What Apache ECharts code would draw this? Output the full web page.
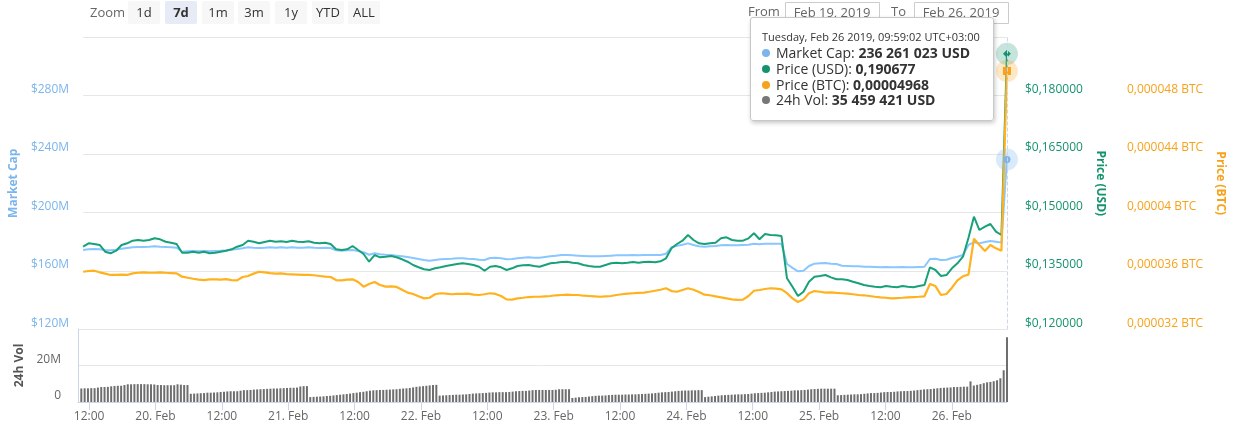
<!DOCTYPE html>
<html>
<head>
<meta charset="utf-8">
<script src="https://cdn.jsdelivr.net/npm/echarts@6/dist/echarts.min.js"></script>
<style>
html,body{margin:0;padding:0;background:#fff;}
#c{width:1234px;height:432px;position:relative;}
</style>
</head>
<body>
<div id="c"></div>
<script>
// ---- time grid (wall-clock UTC+03:00, stored as UTC) ----
const START = Date.UTC(2019, 1, 19, 9, 59, 2);
const HOUR = 3600000;
const VOL_STEP = 36 * 60000;

// ---- x tick positions and labels ----
const tickTimes = [
  '2019-02-19T12:00', '2019-02-20T00:00', '2019-02-20T12:00', '2019-02-21T00:00',
  '2019-02-21T12:00', '2019-02-22T00:00', '2019-02-22T12:00', '2019-02-23T00:00',
  '2019-02-23T12:00', '2019-02-24T00:00', '2019-02-24T12:00', '2019-02-25T00:00',
  '2019-02-25T12:00', '2019-02-26T00:00'
];
const tickLabels = ['12:00', '20. Feb', '12:00', '21. Feb', '12:00', '22. Feb', '12:00', '23. Feb',
  '12:00', '24. Feb', '12:00', '25. Feb', '12:00', '26. Feb'];

// ---- Market Cap (million USD), hourly ----
const marketCap = [
  174.4,174.8,175.0,174.8,174.4,174.2,174.6,175.2,175.7,176.2,
  176.4,176.4,176.6,176.9,176.6,176.4,176.2,175.9,173.2,173.5,
  173.7,173.5,173.7,173.5,173.7,173.9,174.2,174.6,175.0,175.5,
  176.2,175.9,175.7,175.9,176.2,175.9,176.2,175.9,176.2,175.9,
  175.9,176.2,175.9,175.7,175.9,175.7,174.2,173.9,174.2,174.4,
  173.7,172.8,171.1,172.1,171.4,171.1,170.9,170.5,170.1,169.6,
  168.9,168.2,167.5,167.0,167.5,168.0,168.2,168.4,168.7,168.7,
  168.4,168.2,167.7,167.5,168.9,169.1,168.7,168.0,168.2,168.7,
  169.1,169.4,169.1,169.1,169.6,170.1,170.5,170.9,170.9,170.7,
  170.5,170.3,170.1,170.1,170.1,170.3,170.5,170.7,170.7,170.7,
  170.9,170.7,170.9,170.9,170.9,170.9,171.8,176.2,177.3,178.0,
  178.9,177.8,176.9,176.6,176.9,177.1,177.6,177.8,177.6,177.6,
  177.8,178.0,178.7,178.3,178.7,178.7,178.7,178.7,164.8,162.1,
  159.8,160.2,163.4,165.0,165.3,165.5,165.0,164.8,163.6,163.4,
  163.2,163.2,162.9,162.9,162.7,162.5,162.7,162.5,162.5,162.7,
  162.5,162.5,162.7,162.9,168.2,168.4,167.5,167.7,168.9,169.8,
  170.9,177.8,179.6,178.9,179.8,180.5,180.0,179.4,236.261023
];

// ---- Price (USD), hourly ----
const priceUsd = [
  0.14123,0.14210,0.14192,0.14167,0.13995,0.13954,0.14021,0.14167,0.14210,0.14277,
  0.14295,0.14277,0.14295,0.14338,0.14313,0.14251,0.14226,0.14192,0.13969,0.13969,
  0.13995,0.13969,0.13995,0.13954,0.13969,0.13995,0.14021,0.14056,0.14123,0.14167,
  0.14277,0.14251,0.14210,0.14244,0.14277,0.14251,0.14262,0.14244,0.14277,0.14251,
  0.14244,0.14262,0.14226,0.14210,0.14226,0.14192,0.14056,0.14038,0.14056,0.14141,
  0.14038,0.13936,0.13738,0.13910,0.13851,0.13867,0.13885,0.13851,0.13800,0.13738,
  0.13654,0.13595,0.13544,0.13526,0.13569,0.13595,0.13628,0.13654,0.13679,0.13697,
  0.13679,0.13654,0.13610,0.13508,0.13610,0.13628,0.13595,0.13526,0.13569,0.13628,
  0.13646,0.13654,0.13628,0.13610,0.13654,0.13697,0.13713,0.13731,0.13738,0.13713,
  0.13697,0.13654,0.13628,0.13610,0.13610,0.13654,0.13697,0.13713,0.13697,0.13713,
  0.13731,0.13713,0.13731,0.13738,0.13723,0.13749,0.13826,0.14082,0.14192,0.14277,
  0.14423,0.14295,0.14210,0.14192,0.14210,0.14226,0.14338,0.14364,0.14295,0.14277,
  0.14277,0.14338,0.14467,0.14313,0.14449,0.14423,0.14415,0.14397,0.13313,0.13097,
  0.12859,0.12969,0.13226,0.13354,0.13372,0.13397,0.13338,0.13287,0.13287,0.13269,
  0.13226,0.13185,0.13141,0.13115,0.13097,0.13082,0.13115,0.13097,0.13082,0.13115,
  0.13097,0.13082,0.13115,0.13141,0.13595,0.13526,0.13372,0.13397,0.13569,0.13697,
  0.13867,0.14346,0.14892,0.14551,0.14636,0.14705,0.14508,0.14423,0.190677
];

// ---- Price (BTC), hourly ----
const priceBtc = [
  0.00003595,0.00003600,0.00003602,0.00003591,0.00003582,0.00003573,0.00003573,0.00003575,0.00003573,0.00003584,
  0.00003588,0.00003591,0.00003588,0.00003588,0.00003591,0.00003588,0.00003586,0.00003584,0.00003561,0.00003554,
  0.00003547,0.00003541,0.00003538,0.00003543,0.00003543,0.00003541,0.00003545,0.00003538,0.00003536,0.00003559,
  0.00003566,0.00003582,0.00003595,0.00003591,0.00003586,0.00003582,0.00003584,0.00003579,0.00003577,0.00003575,
  0.00003573,0.00003573,0.00003571,0.00003566,0.00003561,0.00003559,0.00003538,0.00003536,0.00003541,0.00003543,
  0.00003525,0.00003493,0.00003511,0.00003525,0.00003504,0.00003493,0.00003495,0.00003491,0.00003472,0.00003452,
  0.00003443,0.00003427,0.00003413,0.00003417,0.00003441,0.00003448,0.00003445,0.00003441,0.00003443,0.00003443,
  0.00003445,0.00003438,0.00003436,0.00003441,0.00003448,0.00003443,0.00003429,0.00003406,0.00003404,0.00003413,
  0.00003417,0.00003422,0.00003424,0.00003424,0.00003427,0.00003429,0.00003434,0.00003436,0.00003438,0.00003436,
  0.00003436,0.00003431,0.00003429,0.00003427,0.00003424,0.00003427,0.00003429,0.00003436,0.00003441,0.00003445,
  0.00003448,0.00003450,0.00003452,0.00003458,0.00003465,0.00003472,0.00003482,0.00003463,0.00003458,0.00003470,
  0.00003482,0.00003472,0.00003456,0.00003438,0.00003434,0.00003427,0.00003420,0.00003413,0.00003406,0.00003402,
  0.00003404,0.00003429,0.00003465,0.00003470,0.00003477,0.00003482,0.00003479,0.00003475,0.00003448,0.00003413,
  0.00003388,0.00003406,0.00003448,0.00003463,0.00003458,0.00003452,0.00003454,0.00003450,0.00003448,0.00003445,
  0.00003441,0.00003436,0.00003434,0.00003429,0.00003424,0.00003420,0.00003417,0.00003413,0.00003415,0.00003417,
  0.00003420,0.00003422,0.00003424,0.00003427,0.00003511,0.00003497,0.00003436,0.00003443,0.00003486,0.00003536,
  0.00003564,0.00003575,0.00003821,0.00003778,0.00003737,0.00003778,0.00003755,0.00003739,0.00004968
];

// ---- 24h Volume (million USD), every 36 minutes ----
const volumeM = [
  7.4,7.5,7.5,7.6,7.6,7.9,8.2,8.2,8.3,8.6,8.8,8.9,8.9,9.3,9.7,9.7,9.8,9.8,9.8,9.8,9.7,9.7,9.6,9.3,9.3,9.2,9.2,9.2,9.2,9.7,9.5,9.3,9.3,
  4.5,4.6,4.7,4.8,4.9,5.1,5.1,5.2,5.3,5.5,5.6,5.8,5.9,5.9,5.9,6.2,6.5,6.5,6.6,6.8,6.9,7.0,7.1,7.2,7.3,7.4,7.4,7.5,7.6,7.7,7.8,7.8,7.9,8.5,8.7,8.7,
  2.7,2.8,2.9,3.0,3.1,3.3,3.4,3.6,3.8,4.0,4.2,4.4,4.6,4.9,5.1,5.4,5.6,5.9,6.2,6.4,6.5,6.6,6.6,6.7,6.8,6.9,7.0,7.2,7.4,7.5,7.7,8.0,8.3,8.5,8.7,8.9,9.1,9.3,9.4,
  3.5,3.6,3.7,3.8,3.9,4.0,4.0,4.1,4.2,4.4,4.6,4.7,4.8,4.9,5.0,5.2,5.3,5.3,5.4,5.4,5.4,5.5,5.7,5.9,6.0,6.1,6.1,6.3,6.5,6.6,6.6,6.6,6.6,6.6,6.6,6.7,7.0,7.0,7.0,7.0,
  2.2,2.4,2.6,2.7,2.8,3.0,3.2,3.4,3.5,3.5,3.6,3.8,3.9,4.0,4.0,4.0,4.1,4.1,4.2,4.2,4.3,4.4,4.5,4.6,4.7,4.9,5.1,5.3,5.4,5.5,5.7,5.9,6.1,6.2,6.3,6.3,6.4,6.4,6.5,6.5,
  2.7,2.9,3.1,3.3,3.5,3.7,3.8,3.9,4.0,4.1,4.2,4.2,4.3,4.4,4.6,4.8,4.9,5.0,5.1,5.3,5.5,5.7,5.8,5.9,6.0,6.1,6.2,6.4,6.4,6.5,6.6,6.8,7.0,7.1,7.2,7.3,7.3,7.3,7.3,7.3,
  3.7,3.8,3.9,4.0,4.1,4.2,4.2,4.3,4.5,4.7,4.9,4.9,5.0,5.2,5.4,5.5,5.5,5.6,5.8,5.9,6.0,6.0,6.1,6.3,6.5,6.7,6.9,7.0,7.1,7.3,7.5,7.7,7.8,7.9,8.0,8.2,8.2,8.3,8.4,8.4,
  11.3,9.0,9.4,9.8,10.3,10.8,11.0,11.4,11.9,13.0,17.4,35.459421
];

// ---- range selector texts ----
const zoomButtons = ['1d', '7d', '1m', '3m', '1y', 'YTD', 'ALL'];
const selectedButton = '7d';
const fromDate = 'Feb 19, 2019';
const toDate = 'Feb 26, 2019';

// ---- colours ----
const C_MC = '#7cb5ec';
const C_USD = '#16936e';
const C_BTC = '#f7a21b';
const C_VOL = '#6e6e6e';
const FONT = '"Open Sans", "DejaVu Sans", sans-serif';

// ---- build series data ----
const tickValues = tickTimes.map(s => Date.parse(s + ':00Z'));
const lineTime = i => START + i * HOUR;
const mcData = marketCap.map((v, i) => [lineTime(i), v]);
const usdData = priceUsd.map((v, i) => [lineTime(i), v]);
const btcData = priceBtc.map((v, i) => [lineTime(i), v]);
const volData = volumeM.map((v, k) => [START + (k + 1) * VOL_STEP, v * 1e6]);
const END = lineTime(marketCap.length - 1);

function lastMarks(data, shape, size, color, halo) {
  const p = data[data.length - 1];
  return {
    silent: true,
    animation: false,
    label: { show: false },
    data: [
      { coord: p, symbol: 'circle', symbolSize: 22, itemStyle: { color: halo } },
      { coord: p, symbol: shape, symbolSize: size, itemStyle: { color: color } }
    ]
  };
}

const spaced = v => Math.round(v).toString().replace(/\B(?=(\d{3})+(?!\d))/g, ' ');
const pad2 = v => (v < 10 ? '0' : '') + v;
const DAYS = ['Sunday', 'Monday', 'Tuesday', 'Wednesday', 'Thursday', 'Friday', 'Saturday'];
const MONTHS = ['Jan', 'Feb', 'Mar', 'Apr', 'May', 'Jun', 'Jul', 'Aug', 'Sep', 'Oct', 'Nov', 'Dec'];

function tooltipHtml() {
  const i = marketCap.length - 1;
  const d = new Date(lineTime(i));
  const head = DAYS[d.getUTCDay()] + ', ' + MONTHS[d.getUTCMonth()] + ' ' + d.getUTCDate() + ' ' +
    d.getUTCFullYear() + ', ' + pad2(d.getUTCHours()) + ':' + pad2(d.getUTCMinutes()) + ':' +
    pad2(d.getUTCSeconds()) + ' UTC+03:00';
  const dot = c => '<span style="display:inline-block;width:8px;height:8px;border-radius:4px;background:' + c +
    ';margin-right:6px;vertical-align:1px"></span>';
  const row = (c, name, val) => '<div style="line-height:15.8px;white-space:nowrap">' + dot(c) + name + ': <b>' + val + '</b></div>';
  return '<div style="font-size:11px;line-height:16px;color:#333;white-space:nowrap">' + head + '</div>' +
    row(C_MC, 'Market Cap', spaced(marketCap[i] * 1e6) + ' USD') +
    row(C_USD, 'Price (USD)', priceUsd[i].toFixed(6).replace('.', ',')) +
    row(C_BTC, 'Price (BTC)', priceBtc[i].toFixed(8).replace('.', ',')) +
    row('#777', '24h Vol', spaced(volumeM[volumeM.length - 1] * 1e6) + ' USD');
}

// ---- range selector graphics ----
const graphics = [];
graphics.push({ type: 'text', x: 90, y: 13, style: { text: 'Zoom', font: '13px ' + FONT, fill: '#666',
  verticalAlign: 'middle', textVerticalAlign: 'middle' } });
const btnX = [128, 165, 202, 238, 275, 312, 348];
zoomButtons.forEach((b, j) => {
  const sel = b === selectedButton;
  graphics.push({ type: 'rect', shape: { x: btnX[j], y: 1, width: 32, height: 23, r: 2 },
    style: { fill: sel ? '#e6ebf5' : '#f7f7f7' } });
  graphics.push({ type: 'text', x: btnX[j] + 16, y: 13,
    style: { text: b, font: (sel ? 'bold ' : '') + '13px ' + FONT, fill: '#333', align: 'center', verticalAlign: 'middle',
      textAlign: 'center', textVerticalAlign: 'middle' } });
});
graphics.push({ type: 'text', x: 748, y: 12, style: { text: 'From', font: '13px ' + FONT, fill: '#666',
  verticalAlign: 'middle', textVerticalAlign: 'middle' } });
graphics.push({ type: 'rect', shape: { x: 785.5, y: 2.5, width: 94, height: 21 }, style: { fill: '#fff', stroke: '#ccc', lineWidth: 1 } });
graphics.push({ type: 'text', x: 832, y: 13, style: { text: fromDate, font: '13px ' + FONT, fill: '#666',
  align: 'center', verticalAlign: 'middle', textAlign: 'center', textVerticalAlign: 'middle' } });
graphics.push({ type: 'text', x: 891, y: 12, style: { text: 'To', font: '13px ' + FONT, fill: '#666',
  verticalAlign: 'middle', textVerticalAlign: 'middle' } });
graphics.push({ type: 'rect', shape: { x: 914.5, y: 2.5, width: 94, height: 21 }, style: { fill: '#fff', stroke: '#ccc', lineWidth: 1 } });
graphics.push({ type: 'text', x: 961, y: 13, style: { text: toDate, font: '13px ' + FONT, fill: '#666',
  align: 'center', verticalAlign: 'middle', textAlign: 'center', textVerticalAlign: 'middle' } });

const chart = echarts.init(document.getElementById('c'), null, { renderer: 'canvas', width: 1234, height: 432 });

const option = {
  animation: false,
  backgroundColor: '#fff',
  textStyle: { fontFamily: FONT },
  graphic: graphics,
  grid: [
    { left: 78, top: 37, width: 929, height: 292.5 },
    { left: 78, top: 329, width: 929, height: 73 }
  ],
  tooltip: {
    show: true,
    trigger: 'axis',
    alwaysShowContent: true,
    transitionDuration: 0,
    showDelay: 0,
    enterable: false,
    position: [750, 17],
    backgroundColor: 'rgba(255,255,255,0.97)',
    borderColor: '#c8c8c8',
    borderWidth: 1,
    padding: [11, 13, 12, 11],
    textStyle: { color: '#333', fontSize: 14, fontFamily: FONT },
    extraCssText: 'box-shadow:1px 2px 4px rgba(0,0,0,0.22);border-radius:3px;',
    axisPointer: { type: 'line', snap: true, lineStyle: { color: '#ccd6eb', width: 1 }, label: { show: false } },
    formatter: tooltipHtml
  },
  xAxis: [
    { type: 'value', gridIndex: 0, min: START, max: END, show: true,
      axisLine: { show: false }, axisTick: { show: false }, axisLabel: { show: false }, splitLine: { show: false } },
    { type: 'value', gridIndex: 1, min: START, max: END,
      axisLine: { show: true, lineStyle: { color: '#ccd6eb' } },
      axisTick: { show: true, customValues: tickValues, length: 8, lineStyle: { color: '#ccd6eb' } },
      splitLine: { show: false },
      axisPointer: { show: false },
      axisLabel: { customValues: tickValues, margin: 9, color: '#666', fontSize: 12, fontFamily: FONT,
        formatter: v => {
          let best = 0;
          tickValues.forEach((t, j) => { if (Math.abs(t - v) < Math.abs(tickValues[best] - v)) best = j; });
          return tickLabels[best];
        } } }
  ],
  yAxis: [
    { type: 'value', gridIndex: 0, position: 'left', min: 120, max: 320, interval: 40,
      axisLine: { show: false }, axisTick: { show: false },
      splitLine: { lineStyle: { color: '#e6e6e6' } },
      axisLabel: { color: C_MC, fontSize: 12, fontFamily: FONT, margin: 14, verticalAlign: 'bottom', showMaxLabel: false,
        formatter: v => '$' + Math.round(v) + 'M' },
      name: 'Market Cap', nameLocation: 'middle', nameGap: 63, nameRotate: 90,
      nameTextStyle: { color: C_MC, fontWeight: 'bold', fontSize: 12, fontFamily: FONT } },
    { type: 'value', gridIndex: 0, position: 'right', min: 0.12, max: 0.195, interval: 0.015,
      axisLine: { show: false }, axisTick: { show: false }, splitLine: { show: false },
      axisLabel: { color: C_USD, fontSize: 12, fontFamily: FONT, margin: 18, verticalAlign: 'bottom', showMaxLabel: false,
        formatter: v => '$' + v.toFixed(6).replace('.', ',') },
      name: 'Price (USD)', nameLocation: 'middle', nameGap: 87, nameRotate: -90,
      nameTextStyle: { color: C_USD, fontWeight: 'bold', fontSize: 12, fontFamily: FONT } },
    { type: 'value', gridIndex: 0, position: 'right', offset: 102, min: 0.000032, max: 0.000052, interval: 0.000004,
      axisLine: { show: false }, axisTick: { show: false }, splitLine: { show: false },
      axisLabel: { color: C_BTC, fontSize: 12, fontFamily: FONT, margin: 18, verticalAlign: 'bottom', showMaxLabel: false,
        formatter: v => v.toFixed(6).replace(/0+$/, '').replace('.', ',') + ' BTC' },
      name: 'Price (BTC)', nameLocation: 'middle', nameGap: 104, nameRotate: -90,
      nameTextStyle: { color: C_BTC, fontWeight: 'bold', fontSize: 12, fontFamily: FONT } },
    { type: 'value', gridIndex: 1, position: 'left', min: 0, max: 40e6, interval: 20e6,
      axisLine: { show: true, lineStyle: { color: '#ccd6eb' } }, axisTick: { show: false },
      splitLine: { lineStyle: { color: '#e6e6e6' } },
      axisLabel: { color: '#666', fontSize: 12, fontFamily: FONT, margin: 17, verticalAlign: 'bottom', showMaxLabel: false,
        formatter: v => v === 0 ? '0' : Math.round(v / 1e6) + 'M' },
      name: '24h Vol', nameLocation: 'middle', nameGap: 50, nameRotate: 90,
      nameTextStyle: { color: '#555', fontWeight: 'bold', fontSize: 12, fontFamily: FONT } }
  ],
  series: [
    { name: 'Market Cap', type: 'line', xAxisIndex: 0, yAxisIndex: 0, data: mcData,
      showSymbol: false, symbol: 'circle', symbolSize: 6, lineStyle: { color: C_MC, width: 2 }, itemStyle: { color: C_MC },
      z: 2,
      markPoint: lastMarks(mcData, 'circle', 7, C_MC, 'rgba(124,181,236,0.28)') },
    { name: 'Price (USD)', type: 'line', xAxisIndex: 0, yAxisIndex: 1, data: usdData,
      showSymbol: false, symbol: 'diamond', symbolSize: 7, lineStyle: { color: C_USD, width: 2 }, itemStyle: { color: C_USD },
      z: 3,
      markPoint: lastMarks(usdData, 'diamond', 7, C_USD, 'rgba(22,147,110,0.25)') },
    { name: 'Price (BTC)', type: 'line', xAxisIndex: 0, yAxisIndex: 2, data: btcData,
      showSymbol: false, symbol: 'rect', symbolSize: 7, lineStyle: { color: C_BTC, width: 2.2 }, itemStyle: { color: C_BTC },
      z: 4,
      markPoint: lastMarks(btcData, 'rect', 8, C_BTC, 'rgba(247,162,27,0.25)') },
    { name: '24h Vol', type: 'bar', xAxisIndex: 1, yAxisIndex: 3, data: volData,
      barWidth: 2, itemStyle: { color: C_VOL }, silent: true }
  ]
};

chart.setOption(option);
function showTip() {
  const p = chart.convertToPixel({ xAxisIndex: 0, yAxisIndex: 0 }, [END - 0.2 * HOUR, 200]);
  chart.dispatchAction({ type: 'showTip', x: p[0], y: p[1] });
}
showTip();
setTimeout(showTip, 30);
setTimeout(showTip, 200);
</script>
</body>
</html>
